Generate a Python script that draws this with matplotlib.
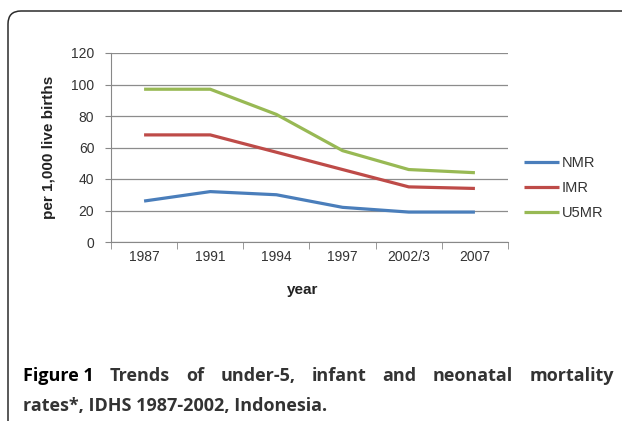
import matplotlib.pyplot as plt
from matplotlib.patches import FancyBboxPatch
from matplotlib.transforms import IdentityTransform

plt.rcParams["font.family"] = ["Liberation Sans", "DejaVu Sans"]

years = ["1987", "1991", "1994", "1997", "2002/3", "2007"]
nmr = [26, 32, 30, 22, 19, 19]
imr = [68, 68, 57, 46, 35, 34]
u5mr = [97, 97, 81, 58, 46, 44]

W, H = 622, 421
fig = plt.figure(figsize=(W / 100, H / 100), dpi=100)

# rounded frame, in pixels
frame = FancyBboxPatch((8, -100), 800, H - 11 + 100,
                       boxstyle="round,pad=0,rounding_size=13",
                       transform=IdentityTransform(), fill=False,
                       edgecolor="#2b2b2b", linewidth=1.1)
fig.patches.append(frame)

ax = fig.add_axes([111 / W, 1 - 242 / H, 397 / W, 189 / H])
x = list(range(len(years)))
ax.plot(x, nmr, color="#4A7EBB", lw=2.3, label="NMR", solid_capstyle="butt")
ax.plot(x, imr, color="#BE4B48", lw=2.3, label="IMR", solid_capstyle="butt")
ax.plot(x, u5mr, color="#98B954", lw=2.3, label="U5MR", solid_capstyle="butt")

ax.set_xlim(-0.5, len(years) - 0.5)
ax.set_ylim(0, 120)
ax.set_yticks(range(0, 121, 20))
ax.set_xticks(x)
ax.set_xticklabels(years)
ax.set_xticks([i - 0.5 for i in range(len(years) + 1)], minor=True)
ax.tick_params(axis="x", which="major", length=0, pad=6, labelsize=10, colors="#333333")
ax.tick_params(axis="x", which="minor", length=5, color="#888888")
ax.tick_params(axis="y", length=4, color="#888888", labelsize=10, colors="#333333", pad=8)
ax.yaxis.grid(True, color="#8c8c8c", lw=0.9)
ax.set_axisbelow(True)
for s in ["top", "right"]:
    ax.spines[s].set_visible(False)
for s in ["left", "bottom"]:
    ax.spines[s].set_color("#888888")

fig.text(49 / W, 1 - 147 / H, "per 1,000 live births", rotation=90, fontsize=11,
         fontweight="bold", ha="center", va="center", color="#222222")
fig.text(303 / W, 1 - 290 / H, "year", fontsize=11, fontweight="bold",
         ha="center", va="center", color="#222222")

fig.legend(loc="center left", bbox_to_anchor=(517 / W, 1 - 188 / H), frameon=False,
           fontsize=10.5, handlelength=2.35, handletextpad=0.2, labelspacing=0.75,
           borderpad=0, labelcolor="#333333")

# caption, first line justified across the frame
cap_font = dict(fontsize=13, family="Open Sans", va="baseline", fontweight="bold")
line1 = ["Figure 1", "Trends", "of", "under-5,", "infant", "and", "neonatal", "mortality"]
x0, x1 = 23, 614
r = fig.canvas.get_renderer()
texts = []
for i, w in enumerate(line1):
    c = "black" if i == 0 else "#333333"
    texts.append(fig.text(0, 1 - 381 / H, w, color=c, **cap_font))
widths = [t.get_window_extent(r).width for t in texts]
gap = (x1 - x0 - sum(widths)) / (len(line1) - 1)
pos = x0
for t, wd in zip(texts, widths):
    t.set_x(pos / W)
    pos += wd + gap

fig.text(x0 / W, 1 - 411 / H, "rates*, IDHS 1987-2002, Indonesia.", color="#333333",
         **cap_font)

fig.savefig("out.png", dpi=100)
